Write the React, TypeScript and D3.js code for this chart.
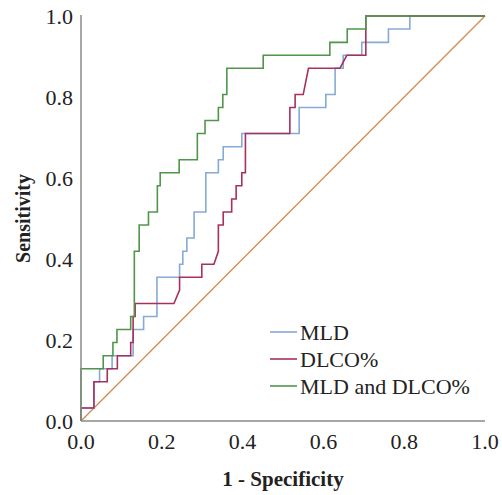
import React from 'react'
import * as d3 from 'd3'

// ROC curve vertices (fpr = 1 - specificity)
const mldFpr = [0, 0, 0.032, 0.032, 0.046, 0.046, 0.077, 0.077, 0.129, 0.129, 0.155, 0.155, 0.188, 0.188, 0.244, 0.244, 0.252, 0.252, 0.262, 0.262, 0.28, 0.28, 0.309, 0.309, 0.34, 0.34, 0.352, 0.352, 0.398, 0.398, 0.54, 0.54, 0.606, 0.606, 0.629, 0.629, 0.649, 0.649, 0.695, 0.695, 0.761, 0.761, 0.814, 0.814, 1]
const mldTpr = [0, 0.032, 0.032, 0.097, 0.097, 0.129, 0.129, 0.161, 0.161, 0.226, 0.226, 0.258, 0.258, 0.355, 0.355, 0.387, 0.387, 0.419, 0.419, 0.452, 0.452, 0.516, 0.516, 0.613, 0.613, 0.645, 0.645, 0.677, 0.677, 0.71, 0.71, 0.774, 0.774, 0.806, 0.806, 0.871, 0.871, 0.903, 0.903, 0.935, 0.935, 0.968, 0.968, 1, 1]

const dlcoFpr = [0, 0, 0.032, 0.032, 0.065, 0.065, 0.09, 0.09, 0.123, 0.123, 0.129, 0.129, 0.134, 0.134, 0.23, 0.244, 0.244, 0.299, 0.299, 0.329, 0.34, 0.34, 0.352, 0.352, 0.373, 0.373, 0.384, 0.384, 0.398, 0.398, 0.407, 0.407, 0.517, 0.517, 0.53, 0.53, 0.55, 0.563, 0.641, 0.658, 0.705, 0.705, 1]
const dlcoTpr = [0, 0.032, 0.032, 0.097, 0.097, 0.129, 0.129, 0.161, 0.161, 0.194, 0.194, 0.258, 0.258, 0.29, 0.29, 0.323, 0.355, 0.355, 0.387, 0.387, 0.419, 0.484, 0.484, 0.516, 0.516, 0.548, 0.548, 0.581, 0.581, 0.613, 0.613, 0.71, 0.71, 0.774, 0.774, 0.806, 0.806, 0.871, 0.871, 0.903, 0.903, 1, 1]

const bothFpr = [0, 0, 0.055, 0.055, 0.079, 0.079, 0.089, 0.089, 0.123, 0.123, 0.132, 0.132, 0.144, 0.144, 0.167, 0.167, 0.189, 0.189, 0.196, 0.196, 0.243, 0.243, 0.288, 0.288, 0.307, 0.307, 0.34, 0.34, 0.351, 0.351, 0.361, 0.361, 0.451, 0.451, 0.616, 0.616, 0.659, 0.659, 0.705, 0.705, 1]
const bothTpr = [0, 0.129, 0.129, 0.161, 0.161, 0.194, 0.194, 0.226, 0.226, 0.258, 0.258, 0.419, 0.419, 0.484, 0.484, 0.516, 0.516, 0.581, 0.581, 0.613, 0.613, 0.645, 0.645, 0.71, 0.71, 0.742, 0.742, 0.774, 0.774, 0.806, 0.806, 0.871, 0.871, 0.903, 0.903, 0.935, 0.935, 0.968, 0.968, 1, 1]

const seriesNames = ['MLD', 'DLCO%', 'MLD and DLCO%']
const seriesColors = ['#86aad6', '#a8305e', '#50964a']
const refColor = '#d4874e'
const tickValues = [0, 0.2, 0.4, 0.6, 0.8, 1.0]

const W = 502
const H = 495
const left = 81
const right = 485
const top = 16
const bottom = 421

export default function App() {
  const x = d3.scaleLinear().domain([0, 1]).range([left, right])
  const y = d3.scaleLinear().domain([0, 1]).range([bottom, top])

  const line = d3.line<[number, number]>()
    .x(d => x(d[0]))
    .y(d => y(d[1]))

  const curves = [
    d3.zip(mldFpr, mldTpr),
    d3.zip(dlcoFpr, dlcoTpr),
    d3.zip(bothFpr, bothTpr),
  ] as [number, number][][]

  const font = '"Liberation Serif", "Times New Roman", serif'

  return (
    <svg width={W} height={H} style={{ position: 'absolute', left: 0, top: 0, background: '#fff' }}
      fontFamily={font}>
      {/* reference diagonal */}
      <path d={line([[0, 0], [1, 1]]) || ''} stroke={refColor} strokeWidth={1.2} fill="none" />

      {curves.map((c, i) => (
        <path key={seriesNames[i]} d={line(c) || ''} stroke={seriesColors[i]} strokeWidth={1.6} fill="none" />
      ))}

      {/* axes */}
      <line x1={left} x2={left} y1={top - 1} y2={bottom} stroke="#8a8a8a" strokeWidth={1.5} />
      <line x1={left} x2={right} y1={bottom} y2={bottom} stroke="#8a8a8a" strokeWidth={1.5} />

      {tickValues.map(t => (
        <text key={'y' + t} x={73} y={y(t)} dy="0.35em" textAnchor="end" fontSize={22} fill="#222">
          {t.toFixed(1)}
        </text>
      ))}
      {tickValues.map(t => (
        <text key={'x' + t} x={x(t)} y={449} textAnchor="middle" fontSize={22} fill="#222">
          {t.toFixed(1)}
        </text>
      ))}

      <text x={(left + right) / 2} y={486} textAnchor="middle" fontSize={21} fontWeight="bold" fill="#222">
        1 - Specificity
      </text>
      <text transform={`translate(30,${(top + bottom) / 2}) rotate(-90)`} textAnchor="middle"
        fontSize={20} fontWeight="bold" fill="#222">
        Sensitivity
      </text>

      {/* legend */}
      {seriesNames.map((n, i) => (
        <g key={n} transform={`translate(270,${332 + i * 27})`}>
          <line x1={0} x2={27} y1={0} y2={0} stroke={seriesColors[i]} strokeWidth={1.6} />
          <text x={30} y={0} dy="0.35em" fontSize={22} fill="#222">{n}</text>
        </g>
      ))}
    </svg>
  )
}
